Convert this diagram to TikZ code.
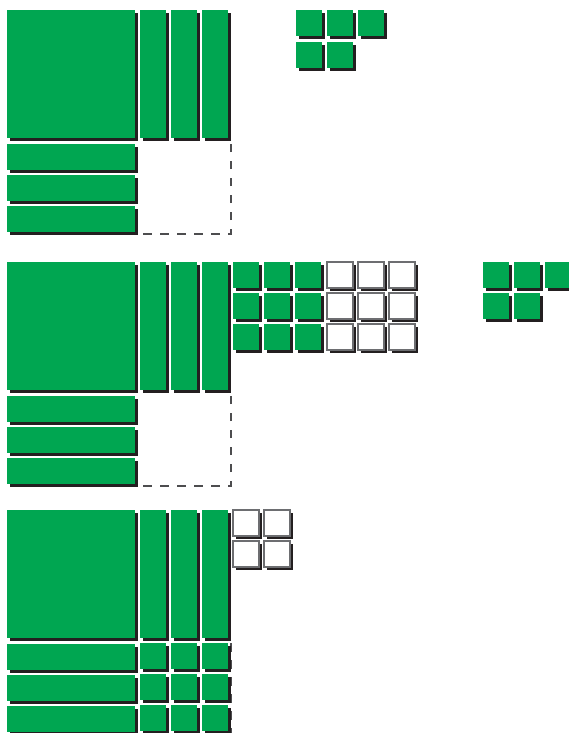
\documentclass[tikz,border=0pt]{standalone}
\usetikzlibrary{calc}
\definecolor{tgreen}{HTML}{00A651}
\definecolor{tshadow}{HTML}{231F20}
\definecolor{tedge}{HTML}{6D6E71}
\definecolor{tdash}{HTML}{4D4D4F}
\tikzset{
  shadowfill/.style={fill=tshadow},
  greenfill/.style={fill=tgreen},
  whitefill/.style={fill=white,draw=tedge,line width=1.1pt},
  guide/.style={draw=tdash,line width=1.3pt,dash pattern=on 8.5pt off 8.5pt},
}
% #1 style, #2 x, #3 y, #4 width, #5 height
\newcommand\mytile[5]{%
  \fill[shadowfill] (#2+3,#3+3) rectangle (#2+#4+3,#3+#5+3);
  \path[#1] (#2,#3) rectangle (#2+#4,#3+#5);
}
% base-ten block: #1 top y
\newcommand\myblock[1]{%
  \mytile{greenfill}{7}{#1}{128}{128}
  \foreach \xx in {140,171,202} {\mytile{greenfill}{\xx}{#1}{26}{128}}
  \foreach \dy in {134,165,196} {\mytile{greenfill}{7}{#1+\dy}{128}{26}}
}
\begin{document}
\begin{tikzpicture}[x=1pt,y=-1pt]
\useasboundingbox (0,0) rectangle (569,733);
% ---------- block 1 ----------
\draw[guide] (143,234) -- (231,234) -- (231,143);
\myblock{10}
\foreach \xx in {296,327,358} {\mytile{greenfill}{\xx}{10}{26}{26}}
\foreach \xx in {296,327} {\mytile{greenfill}{\xx}{42}{26}{26}}
% ---------- block 2 ----------
\draw[guide] (143,486) -- (231,486) -- (231,395);
\myblock{262}
\foreach \yy in {262,293,324} {
  \foreach \xx in {233,264,295} {\mytile{greenfill}{\xx}{\yy}{26}{26}}
  \foreach \xx in {327,358,389} {\mytile{whitefill}{\xx}{\yy}{26}{26}}
}
\foreach \xx in {483,514,545} {\mytile{greenfill}{\xx}{262}{26}{26}}
\foreach \xx in {483,514} {\mytile{greenfill}{\xx}{293}{26}{26}}
% ---------- block 3 ----------
\draw[guide] (231,643) -- (231,740);
\myblock{510}
\foreach \yy in {643,674,705} {
  \foreach \xx in {140,171,202} {\mytile{greenfill}{\xx}{\yy}{26}{26}}
}
\foreach \yy in {510,541} {
  \foreach \xx in {233,264} {\mytile{whitefill}{\xx}{\yy}{26}{26}}
}
\end{tikzpicture}
\end{document}
